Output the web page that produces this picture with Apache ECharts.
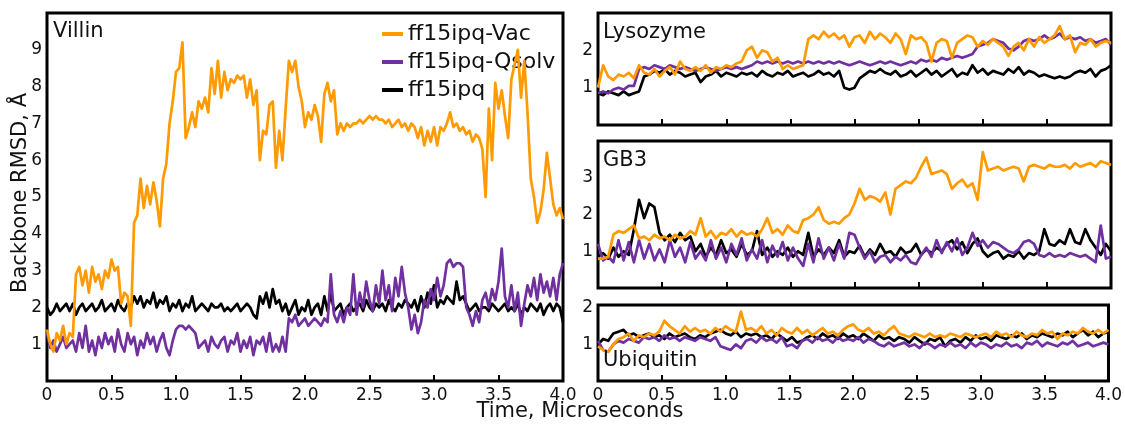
<!DOCTYPE html>
<html><head><meta charset="utf-8">
<script src="https://cdn.jsdelivr.net/npm/echarts@6/dist/echarts.min.js"></script>
<style>html,body{margin:0;padding:0;background:#fff;}#c{width:1125px;height:426px;}</style>
</head><body><div id="c"></div>
<script>
// ---- data ----
const seriesNames = ['ff15ipq-Vac', 'ff15ipq-Qsolv', 'ff15ipq'];
const panelNames = ['Villin', 'Lysozyme', 'GB3', 'Ubiquitin'];
const xTicks = ['0', '0.5', '1.0', '1.5', '2.0', '2.5', '3.0', '3.5', '4.0'];

// Villin: time step 0.025 us (161 samples)
const villinStep = 0.025;
const villinVac = [1.4,1.0,0.8,1.3,1.1,1.5,1.0,1.3,
1.2,2.9,3.1,2.6,3.0,2.4,3.1,2.7,
2.9,2.5,3.0,2.8,3.3,3.0,3.1,2.1,
2.4,2.3,1.5,4.3,4.5,5.5,4.7,5.3,
4.8,5.4,4.9,4.2,5.5,5.9,7.0,7.6,
8.4,8.5,9.2,6.6,6.9,7.3,6.9,7.6,
7.4,7.7,7.3,8.5,7.8,8.7,7.7,8.4,
7.9,8.2,8.1,8.3,8.2,8.3,7.7,8.2,
7.5,7.9,6.0,6.8,6.7,7.5,7.6,5.8,
6.8,6.0,7.4,8.7,8.4,8.7,8.0,7.6,
6.9,7.3,7.1,7.5,7.2,6.5,7.8,8.1,
7.6,7.9,6.7,7.0,6.8,7.0,6.9,7.0,
7.0,7.1,7.0,7.1,7.2,7.1,7.2,7.1,
7.1,7.0,7.1,6.9,7.0,7.1,6.9,7.0,
6.8,7.0,6.9,6.6,6.9,6.4,6.8,6.5,
6.9,6.4,6.9,6.8,7.0,7.3,6.9,7.0,
6.8,6.9,6.7,6.8,6.5,6.7,6.6,6.3,
5.0,7.4,6.0,8.1,7.4,7.9,7.2,6.6,
8.2,8.6,9.0,7.7,8.7,7.3,5.5,5.0,
4.3,4.6,5.2,6.2,5.5,4.8,4.5,4.7,
4.4];
const villinQsolv = [1.3,0.9,1.1,0.8,1.0,1.2,0.9,1.0,
1.1,0.8,1.3,0.9,1.5,0.8,1.1,0.7,
1.2,0.9,1.3,1.0,1.2,0.8,1.4,1.0,
0.8,1.3,1.0,1.2,0.7,1.1,0.9,1.3,
1.0,1.2,0.8,1.1,1.3,0.9,0.7,1.1,
1.4,1.5,1.5,1.4,1.5,1.4,1.3,0.9,
1.0,1.1,0.8,1.2,1.0,0.9,1.1,1.2,
0.8,1.1,1.0,1.3,0.8,1.1,0.9,1.2,
0.7,1.1,1.0,1.2,0.8,1.3,0.8,1.0,
0.8,1.2,0.8,1.7,1.6,1.8,1.5,1.6,
1.7,1.5,1.6,1.7,1.6,1.5,1.7,1.6,
2.9,1.8,1.6,1.9,1.6,2.0,1.8,2.9,
1.8,2.4,2.0,2.7,2.2,1.9,2.6,2.1,
3.0,2.2,2.6,1.9,2.8,2.3,3.1,2.4,
2.0,1.4,1.8,1.3,1.6,2.2,2.0,2.5,
2.2,2.8,2.3,2.6,3.2,3.3,3.1,3.2,
3.2,3.1,2.0,1.8,1.5,1.9,1.6,2.2,
2.4,2.0,2.5,2.2,2.7,3.6,2.3,2.0,
2.6,1.9,2.4,1.5,2.1,2.6,2.3,2.8,
2.2,2.9,2.4,2.7,2.3,2.8,2.2,2.9,
3.2];
const villinIpq = [2.0,1.8,1.9,2.1,1.9,2.0,2.1,1.9,
2.1,1.8,2.0,2.1,1.9,2.0,2.1,1.9,
2.0,2.2,1.9,2.0,2.1,1.9,2.2,2.0,
1.9,2.1,2.0,2.3,2.1,2.3,2.0,2.2,
2.1,2.4,2.0,2.2,2.1,2.3,1.9,2.1,
2.0,2.2,1.9,2.1,2.0,2.3,1.9,2.0,
2.1,2.0,1.9,2.1,2.0,2.0,2.1,1.9,
2.0,1.9,2.0,2.1,1.9,2.0,2.1,2.0,
1.8,1.7,2.3,2.1,2.4,2.0,2.5,2.1,
2.2,1.9,2.1,1.8,2.0,2.2,1.8,2.0,
1.9,2.2,1.8,2.0,2.1,1.8,2.3,1.9,
2.4,1.9,2.0,2.1,1.8,2.0,2.1,1.9,
2.0,2.1,1.9,2.2,2.0,1.9,2.1,2.0,
2.1,1.9,2.2,2.0,1.9,2.1,2.0,2.2,
2.1,2.0,2.2,1.9,2.3,2.0,2.4,2.1,
2.6,2.0,2.2,2.1,2.3,2.2,2.1,2.7,
2.2,2.3,2.1,1.9,2.0,2.1,1.9,2.0,
2.0,1.9,2.1,2.0,1.9,2.0,2.1,1.9,
2.0,1.9,2.1,1.8,2.0,1.9,2.1,2.0,
1.9,2.1,1.8,2.0,2.1,1.9,2.1,2.0,
1.6];

// Right-hand panels: time step 0.04 us (101 samples)
const smallStep = 0.04;
const lysoVac = [1.0,1.6,1.3,1.2,1.35,1.3,1.4,1.25,1.6,1.4,
1.35,1.5,1.3,1.45,1.55,1.35,1.7,1.5,1.45,1.55,
1.45,1.6,1.4,1.55,1.5,1.6,1.55,1.65,1.7,2.0,
2.1,1.8,2.0,1.95,1.7,1.8,1.5,1.6,1.5,1.55,
1.6,2.3,2.4,2.3,2.5,2.35,2.45,2.3,2.4,2.1,
2.35,2.4,2.2,2.5,2.3,2.45,2.35,2.2,2.45,2.3,
1.9,2.4,2.3,2.35,2.2,1.7,2.2,2.3,2.25,1.8,
2.2,2.3,2.4,2.35,2.1,2.25,2.15,2.3,2.2,2.1,
1.85,2.1,2.2,2.0,2.3,2.1,2.35,2.2,2.3,2.4,
2.65,2.3,2.4,1.95,2.2,2.15,2.3,2.1,2.2,2.25,
2.2];
const lysoQsolv = [0.85,0.9,0.85,0.95,1.0,0.95,1.05,1.05,1.5,1.55,
1.5,1.6,1.55,1.5,1.6,1.55,1.5,1.55,1.5,1.45,
1.5,1.55,1.5,1.45,1.5,1.55,1.5,1.55,1.5,1.55,
1.6,1.7,1.65,1.7,1.65,1.7,1.65,1.7,1.65,1.7,
1.65,1.7,1.65,1.7,1.65,1.7,1.65,1.7,1.65,1.6,
1.65,1.7,1.65,1.6,1.65,1.7,1.65,1.7,1.65,1.6,
1.65,1.7,1.65,1.75,1.7,1.75,1.7,1.8,1.75,1.8,
1.85,1.8,1.85,1.9,2.1,2.15,2.2,2.3,2.25,2.2,
2.05,2.0,2.1,2.25,2.3,2.25,2.3,2.4,2.3,2.35,
2.45,2.3,2.35,2.3,2.35,2.25,2.3,2.2,2.25,2.3,
2.15];
const lysoIpq = [0.85,0.8,0.9,0.85,0.8,0.9,0.8,0.85,0.9,1.3,
1.35,1.45,1.4,1.5,1.35,1.45,1.4,1.3,1.35,1.4,
1.15,1.3,1.35,1.45,1.3,1.4,1.35,1.3,1.4,1.35,
1.4,1.3,1.45,1.35,1.3,1.4,1.35,1.45,1.3,1.35,
1.4,1.3,1.35,1.45,1.35,1.4,1.3,1.45,1.0,0.95,
1.0,1.25,1.35,1.45,1.4,1.5,1.4,1.35,1.45,1.3,
1.35,1.45,1.3,1.4,1.5,1.35,1.45,1.3,1.4,1.5,
1.3,1.4,1.35,1.6,1.4,1.5,1.35,1.45,1.4,1.35,
1.5,1.4,1.55,1.35,1.45,1.4,1.3,1.35,1.3,1.25,
1.3,1.25,1.3,1.4,1.45,1.4,1.5,1.3,1.45,1.5,
1.6];
const gb3Vac = [0.8,0.8,0.85,1.45,1.55,1.5,1.6,1.7,1.35,1.4,
1.3,1.45,1.35,1.4,1.3,1.45,1.35,1.4,1.55,1.45,
1.9,1.4,1.55,1.35,1.5,1.45,1.6,1.4,1.55,1.45,
1.5,1.4,1.6,1.9,1.5,1.6,1.45,1.7,1.55,1.5,
1.85,1.9,2.0,2.2,1.85,1.75,1.8,1.75,1.9,2.0,
2.3,2.7,2.4,2.5,2.45,2.35,2.6,2.0,2.7,2.8,
2.9,2.85,3.0,3.3,3.55,3.1,3.15,3.2,3.1,2.7,
2.85,2.95,2.75,2.85,2.4,3.7,3.2,3.25,3.3,3.2,
3.25,3.3,3.25,2.9,3.3,3.35,3.3,3.25,3.35,3.3,
3.3,3.35,3.25,3.4,3.3,3.35,3.4,3.3,3.45,3.4,
3.35];
const gb3Qsolv = [1.2,0.75,0.85,0.7,1.3,0.75,1.25,0.7,1.3,0.8,
1.2,0.75,1.05,0.7,1.3,0.85,1.1,0.7,1.25,0.8,
1.0,0.75,1.3,0.8,1.1,0.7,1.2,0.9,1.35,0.75,
1.05,0.8,1.3,0.7,1.15,0.85,1.25,0.75,1.1,0.8,
0.6,1.2,0.7,1.35,0.8,1.1,0.75,1.2,0.8,1.5,
1.45,1.1,0.8,1.0,0.7,0.85,0.9,0.7,0.85,0.75,
0.9,0.7,0.65,0.9,1.1,0.85,1.3,0.95,1.25,1.0,
1.35,0.9,1.1,1.5,1.15,1.3,1.1,1.25,1.2,1.1,
1.0,0.95,1.05,1.25,1.3,1.2,0.9,0.85,0.95,0.85,
0.9,0.85,0.95,0.9,0.85,0.9,0.8,0.7,1.7,0.8,
0.85];
const gb3Ipq = [0.85,0.95,0.8,1.1,0.85,1.0,0.9,1.6,2.4,1.9,
2.3,2.2,1.5,1.3,1.45,1.25,1.5,1.3,1.4,1.0,
1.2,0.85,1.1,0.9,1.3,0.95,1.05,0.85,1.2,0.9,
1.0,1.55,0.9,1.1,0.85,1.0,0.9,1.1,0.85,1.0,
0.9,1.5,0.85,1.05,0.9,1.1,0.95,1.3,0.85,1.0,
0.95,1.15,0.85,1.05,0.9,1.2,0.95,1.0,0.85,1.1,
0.95,1.0,1.2,0.9,1.05,0.95,1.1,1.0,1.2,1.3,
1.05,1.25,0.95,1.2,1.35,1.0,0.85,0.95,1.0,0.8,
0.9,0.85,1.0,0.8,0.95,0.9,1.0,1.6,1.2,1.15,
1.3,1.2,1.6,1.25,1.2,1.6,1.3,1.1,0.9,1.2,
1.0];
const ubqVac = [0.95,0.85,0.8,1.0,1.15,1.2,1.3,1.1,1.25,1.2,
1.3,1.25,1.35,1.65,1.5,1.4,1.3,1.5,1.35,1.45,
1.35,1.4,1.3,1.45,1.35,1.5,1.4,1.35,1.9,1.4,
1.45,1.35,1.5,1.3,1.4,1.25,1.45,1.35,1.3,1.45,
1.3,1.4,1.25,1.35,1.45,1.3,1.35,1.25,1.4,1.5,
1.55,1.4,1.35,1.45,1.3,1.35,1.25,1.4,1.5,1.3,
1.25,1.2,1.3,1.25,1.2,1.3,1.2,1.25,1.2,1.3,
1.25,1.2,1.3,1.25,1.2,1.25,1.3,1.2,1.35,1.25,
1.3,1.2,1.35,1.25,1.2,1.3,1.25,1.4,1.3,1.35,
1.15,1.3,1.25,1.35,1.3,1.45,1.35,1.3,1.4,1.3,
1.4];
const ubqQsolv = [1.1,0.85,0.8,1.0,1.1,1.05,1.15,1.1,1.05,1.2,
1.15,1.2,1.1,1.25,1.15,1.2,1.1,1.2,1.15,1.1,
1.2,1.15,1.1,1.2,0.95,0.9,0.85,1.0,0.9,1.1,
1.15,1.05,1.2,1.1,1.15,1.05,1.2,0.95,1.0,0.9,
1.1,1.15,1.05,1.2,1.1,1.15,1.05,1.2,1.1,1.15,
1.1,1.2,1.05,1.15,1.1,1.0,0.95,1.05,0.95,1.0,
1.05,0.95,1.0,0.9,1.05,1.0,0.9,1.0,0.95,1.05,
0.95,1.0,0.9,1.05,0.95,1.05,1.0,0.9,1.0,0.95,
1.05,0.95,1.0,0.9,1.05,1.0,1.1,0.95,1.05,1.0,
0.95,1.05,1.0,1.1,0.95,1.0,1.05,0.95,1.0,1.05,
1.0];
const ubqIpq = [1.0,1.15,1.1,1.3,1.35,1.4,1.25,1.3,1.2,1.25,
1.3,1.2,1.25,1.15,1.3,1.2,1.25,1.3,1.2,1.15,
1.25,1.2,1.3,1.35,1.4,1.3,1.25,1.35,1.2,1.3,
1.25,1.3,1.2,1.25,1.15,1.3,1.2,1.1,1.2,1.05,
1.1,1.2,1.25,1.15,1.3,1.2,1.25,1.15,1.3,1.2,
1.25,1.15,1.3,1.2,1.1,1.25,1.15,1.2,1.1,1.2,
1.15,1.05,1.2,1.1,1.0,1.15,1.1,1.2,0.95,1.1,
1.15,1.05,1.2,1.1,1.25,1.15,1.2,1.1,1.25,1.2,
1.15,1.25,1.2,1.3,1.15,1.25,1.2,1.3,1.25,1.2,
1.3,1.25,1.35,1.2,1.3,1.4,1.25,1.35,1.2,1.3,
1.35];

const yMax = [10, 3, 4, 2.08];
const yLabelRange = [[1, 9], [1, 2], [1, 3], [1, 2]];

// ---- chart ----
const colors = {'ff15ipq-Vac': '#FF9A00', 'ff15ipq-Qsolv': '#7030A0', 'ff15ipq': '#000000'};
const FONT = 'DejaVu Sans';
const TXT = '#111111';

function pairs(step, vals) { return vals.map((v, i) => [+(i * step).toFixed(3), v]); }

const panels = [
  {step: villinStep, data: {'ff15ipq-Vac': villinVac, 'ff15ipq-Qsolv': villinQsolv, 'ff15ipq': villinIpq}},
  {step: smallStep, data: {'ff15ipq-Vac': lysoVac, 'ff15ipq-Qsolv': lysoQsolv, 'ff15ipq': lysoIpq}},
  {step: smallStep, data: {'ff15ipq-Vac': gb3Vac, 'ff15ipq-Qsolv': gb3Qsolv, 'ff15ipq': gb3Ipq}},
  {step: smallStep, data: {'ff15ipq-Vac': ubqVac, 'ff15ipq-Qsolv': ubqQsolv, 'ff15ipq': ubqIpq}}
];

const gridBoxes = [
  {left: 47, top: 13, width: 516, height: 368},
  {left: 598, top: 13, width: 513, height: 112},
  {left: 598, top: 141, width: 513, height: 147},
  {left: 598, top: 305, width: 513, height: 76}
];
const showXLabels = [true, false, false, true];
const titlePos = [[53, 32], [603, 33], [603, 161], [603, 361]];

const grid = gridBoxes.map(b => Object.assign({show: true, borderColor: '#000', borderWidth: 3, backgroundColor: 'rgba(0,0,0,0)', z: 3}, b));

const xAxis = gridBoxes.map((b, k) => ({
  type: 'value', gridIndex: k, min: 0, max: 4, interval: 0.5,
  axisLine: {show: false},
  axisTick: {show: true, inside: true, length: 6, lineStyle: {color: '#000', width: 2}},
  splitLine: {show: false},
  axisLabel: {show: showXLabels[k], fontFamily: FONT, fontSize: 17, color: TXT, margin: 6,
    formatter: v => xTicks[Math.round(v / 0.5)] || ''}
}));

const yAxis = gridBoxes.map((b, k) => ({
  type: 'value', gridIndex: k, min: 0, max: yMax[k], interval: 1,
  axisLine: {show: false}, axisTick: {show: false}, splitLine: {show: false},
  axisLabel: {fontFamily: FONT, fontSize: 17, color: TXT, margin: 5,
    formatter: v => (Math.abs(v - Math.round(v)) < 1e-6 && v >= yLabelRange[k][0] && v <= yLabelRange[k][1]) ? String(Math.round(v)) : ''}
}));

const drawOrder = ['ff15ipq', 'ff15ipq-Qsolv', 'ff15ipq-Vac'];
const series = [];
panels.forEach((p, k) => {
  drawOrder.forEach((name, j) => {
    series.push({
      type: 'line', name: name, xAxisIndex: k, yAxisIndex: k,
      data: pairs(p.step, p.data[name]),
      showSymbol: false, symbol: 'none', z: 2 + j,
      lineStyle: {color: colors[name], width: 2.7, join: 'round'},
      itemStyle: {color: colors[name]},
      clip: true
    });
  });
});

const graphic = panelNames.map((t, k) => ({
  type: 'text', x: titlePos[k][0], y: titlePos[k][1], z: 10,
  style: {text: t, font: '21px "' + FONT + '"', fill: TXT, verticalAlign: 'middle', align: 'left'}
}));
graphic.push({
  type: 'text', x: 21, y: 193, rotation: Math.PI / 2, z: 10,
  style: {text: 'Backbone RMSD, Å', font: '21px "' + FONT + '"', fill: TXT, verticalAlign: 'middle', align: 'center'}
});
graphic.push({
  type: 'text', x: 580, y: 412, z: 10,
  style: {text: 'Time, Microseconds', font: '21px "' + FONT + '"', fill: TXT, verticalAlign: 'middle', align: 'center'}
});

const chart = echarts.init(document.getElementById('c'), null, {renderer: 'canvas'});
chart.setOption({
  animation: false,
  backgroundColor: '#fff',
  textStyle: {fontFamily: FONT},
  grid: grid, xAxis: xAxis, yAxis: yAxis, series: series, graphic: graphic,
  legend: {
    data: seriesNames, orient: 'vertical', left: 382, top: 23, padding: 0,
    itemWidth: 21, itemHeight: 4, itemGap: 6, icon: 'rect', selectedMode: false,
    textStyle: {fontFamily: FONT, fontSize: 22, color: TXT}
  }
});
</script></body></html>
